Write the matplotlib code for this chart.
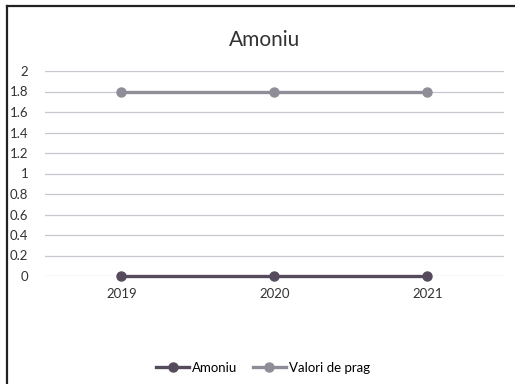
import matplotlib
matplotlib.use("Agg")
import matplotlib.pyplot as plt
from matplotlib.lines import Line2D

plt.rcParams['font.family'] = ['Lato', 'DejaVu Sans']

years = ["2019", "2020", "2021"]
amoniu = [0.0, 0.0, 0.0]
valori_prag = [1.8, 1.8, 1.8]
yticks = [0, 0.2, 0.4, 0.6, 0.8, 1, 1.2, 1.4, 1.6, 1.8, 2]
ytick_labels = ["0", "0.2", "0.4", "0.6", "0.8", "1", "1.2", "1.4", "1.6", "1.8", "2"]

fig = plt.figure(figsize=(5.15, 3.84), dpi=100)
ax = fig.add_axes([45 / 515, 1 - 276 / 384, 459 / 515, 205 / 384])

x = range(len(years))
ax.plot(x, valori_prag, color="#8f8e98", lw=2.4, marker="o", ms=6.5, label="Valori de prag",
        zorder=3, clip_on=False)
ax.plot(x, amoniu, color="#564b5c", lw=2.4, marker="o", ms=6.5, label="Amoniu",
        zorder=4, clip_on=False)

ax.set_xlim(-0.5, 2.5)
ax.set_ylim(0, 2)
ax.set_yticks(yticks)
ax.set_yticklabels(ytick_labels, fontsize=9.5, color="#333333")
ax.set_xticks(list(x))
ax.set_xticklabels(years, fontsize=9.5, color="#333333")
ax.tick_params(length=0)
ax.tick_params(axis="y", pad=12)
ax.tick_params(axis="x", pad=9)
ax.grid(axis="y", color="#c9c8d0", lw=0.9)
ax.set_axisbelow(True)
for s in ax.spines.values():
    s.set_visible(False)

fig.text(265 / 515, 1 - 40 / 384, "Amoniu", ha="center", va="center", fontsize=15, color="#333333")

handles = [
    Line2D([], [], color="#564b5c", lw=2.4, marker="o", ms=6.5),
    Line2D([], [], color="#8f8e98", lw=2.4, marker="o", ms=6.5),
]
fig.legend(handles, ["Amoniu", "Valori de prag"], loc="center", bbox_to_anchor=(263 / 515, 1 - 368 / 384),
           ncol=2, frameon=False, fontsize=9.5, handlelength=2.5, handletextpad=0.2, columnspacing=1.2)

# frame from the scanned page
fig.add_artist(Line2D([7 / 515, 7 / 515], [0, 1 - 6 / 384], transform=fig.transFigure, color="#222222", lw=1.6))
fig.add_artist(Line2D([7 / 515, 1], [1 - 6 / 384, 1 - 6 / 384], transform=fig.transFigure, color="#222222", lw=1.6))

fig.savefig("out.png", dpi=100)
